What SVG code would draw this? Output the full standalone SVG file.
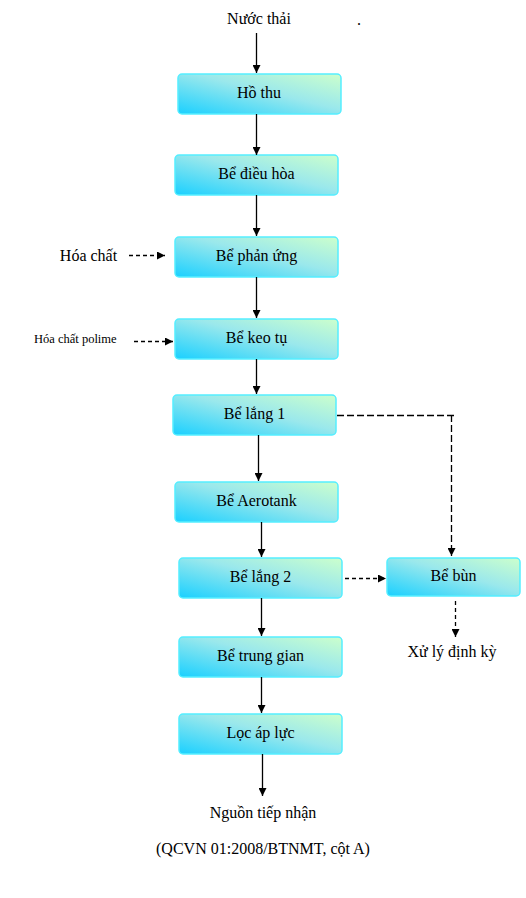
<svg xmlns="http://www.w3.org/2000/svg" width="526" height="898" viewBox="0 0 526 898">
<defs>
<linearGradient id="g" x1="0" y1="1" x2="1" y2="0">
<stop offset="0" stop-color="#1ad0ff"/>
<stop offset="0.55" stop-color="#9ae8ec"/>
<stop offset="1" stop-color="#ccffcc"/>
</linearGradient>
<marker id="ah" viewBox="0 0 10 10" refX="10" refY="5" markerWidth="8" markerHeight="8" markerUnits="userSpaceOnUse" orient="auto">
<path d="M0,0 L10,5 L0,10 z" fill="#000"/>
</marker>
</defs>
<style>
.box{fill:url(#g);stroke:#55eeff;stroke-width:1.5}
.t{font-family:"Liberation Serif","Times New Roman",serif;font-size:16px;fill:#000;text-anchor:middle}
.s{font-family:"Liberation Serif","Times New Roman",serif;font-size:12.5px;fill:#000}
.c{stroke:#000;stroke-width:1.3;fill:none}
.d{stroke-dasharray:4,3}
.d2{stroke-dasharray:7,3}
</style>
<rect width="526" height="898" fill="#fff"/>
<text class="t" x="259" y="24">Nước thải</text>
<text class="t" x="359" y="25">.</text>
<g id="n1"><rect class="box" x="178" y="74" width="163" height="40" rx="4"/><text class="t" x="259" y="98">Hồ thu</text></g>
<g id="n2"><rect class="box" x="175" y="155" width="163" height="40" rx="4"/><text class="t" x="256.5" y="179">Bể điều hòa</text></g>
<g id="n3"><rect class="box" x="175" y="237" width="163" height="40" rx="4"/><text class="t" x="256.5" y="261">Bể phản ứng</text></g>
<g id="n4"><rect class="box" x="175" y="319" width="163" height="40" rx="4"/><text class="t" x="256.5" y="343">Bể keo tụ</text></g>
<g id="n5"><rect class="box" x="173" y="395" width="163" height="40" rx="4"/><text class="t" x="254.5" y="419">Bể lắng 1</text></g>
<g id="n6"><rect class="box" x="175" y="482" width="163" height="40" rx="4"/><text class="t" x="256.5" y="506">Bể Aerotank</text></g>
<g id="n7"><rect class="box" x="179" y="558" width="163" height="40" rx="4"/><text class="t" x="260.5" y="582">Bể lắng 2</text></g>
<g id="n8"><rect class="box" x="387" y="558" width="133" height="38" rx="4"/><text class="t" x="453.5" y="581">Bể bùn</text></g>
<g id="n9"><rect class="box" x="179" y="637" width="163" height="40" rx="4"/><text class="t" x="260.5" y="661">Bể trung gian</text></g>
<g id="n10"><rect class="box" x="179" y="714" width="163" height="40" rx="4"/><text class="t" x="260.5" y="738">Lọc áp lực</text></g>
<g id="labels">
<text class="t" x="88.5" y="261">Hóa chất</text>
<text class="s" x="34" y="343">Hóa chất polime</text>
<text class="t" x="452" y="657">Xử lý định kỳ</text>
<text class="t" x="263" y="818">Nguồn tiếp nhận</text>
<text class="t" x="263" y="854">(QCVN 01:2008/BTNMT, cột A)</text>
</g>
<g id="connectors">
<line class="c" x1="256.5" y1="33" x2="256.5" y2="73" marker-end="url(#ah)"/>
<line class="c" x1="256.5" y1="114" x2="256.5" y2="155" marker-end="url(#ah)"/>
<line class="c" x1="256.5" y1="195" x2="256.5" y2="236" marker-end="url(#ah)"/>
<line class="c" x1="256.5" y1="277" x2="256.5" y2="318" marker-end="url(#ah)"/>
<line class="c" x1="256.5" y1="359" x2="256.5" y2="394" marker-end="url(#ah)"/>
<line class="c" x1="258.5" y1="435" x2="258.5" y2="481" marker-end="url(#ah)"/>
<line class="c" x1="261.5" y1="522" x2="261.5" y2="557" marker-end="url(#ah)"/>
<line class="c" x1="261.5" y1="598" x2="261.5" y2="636" marker-end="url(#ah)"/>
<line class="c" x1="261.5" y1="677" x2="261.5" y2="713" marker-end="url(#ah)"/>
<line class="c" x1="262.5" y1="754" x2="262.5" y2="796" marker-end="url(#ah)"/>
<line class="c d" x1="129" y1="255.5" x2="165" y2="255.5" marker-end="url(#ah)"/>
<line class="c d" x1="134" y1="341.5" x2="173" y2="341.5" marker-end="url(#ah)"/>
<polyline class="c d2" points="337,415.5 454,415.5"/>
<line class="c d2" x1="451.5" y1="415" x2="451.5" y2="556" marker-end="url(#ah)"/>
<line class="c d" x1="345" y1="578.5" x2="386" y2="578.5" marker-end="url(#ah)"/>
<line class="c d" x1="455.5" y1="601" x2="455.5" y2="637" marker-end="url(#ah)"/>
</g>
</svg>
